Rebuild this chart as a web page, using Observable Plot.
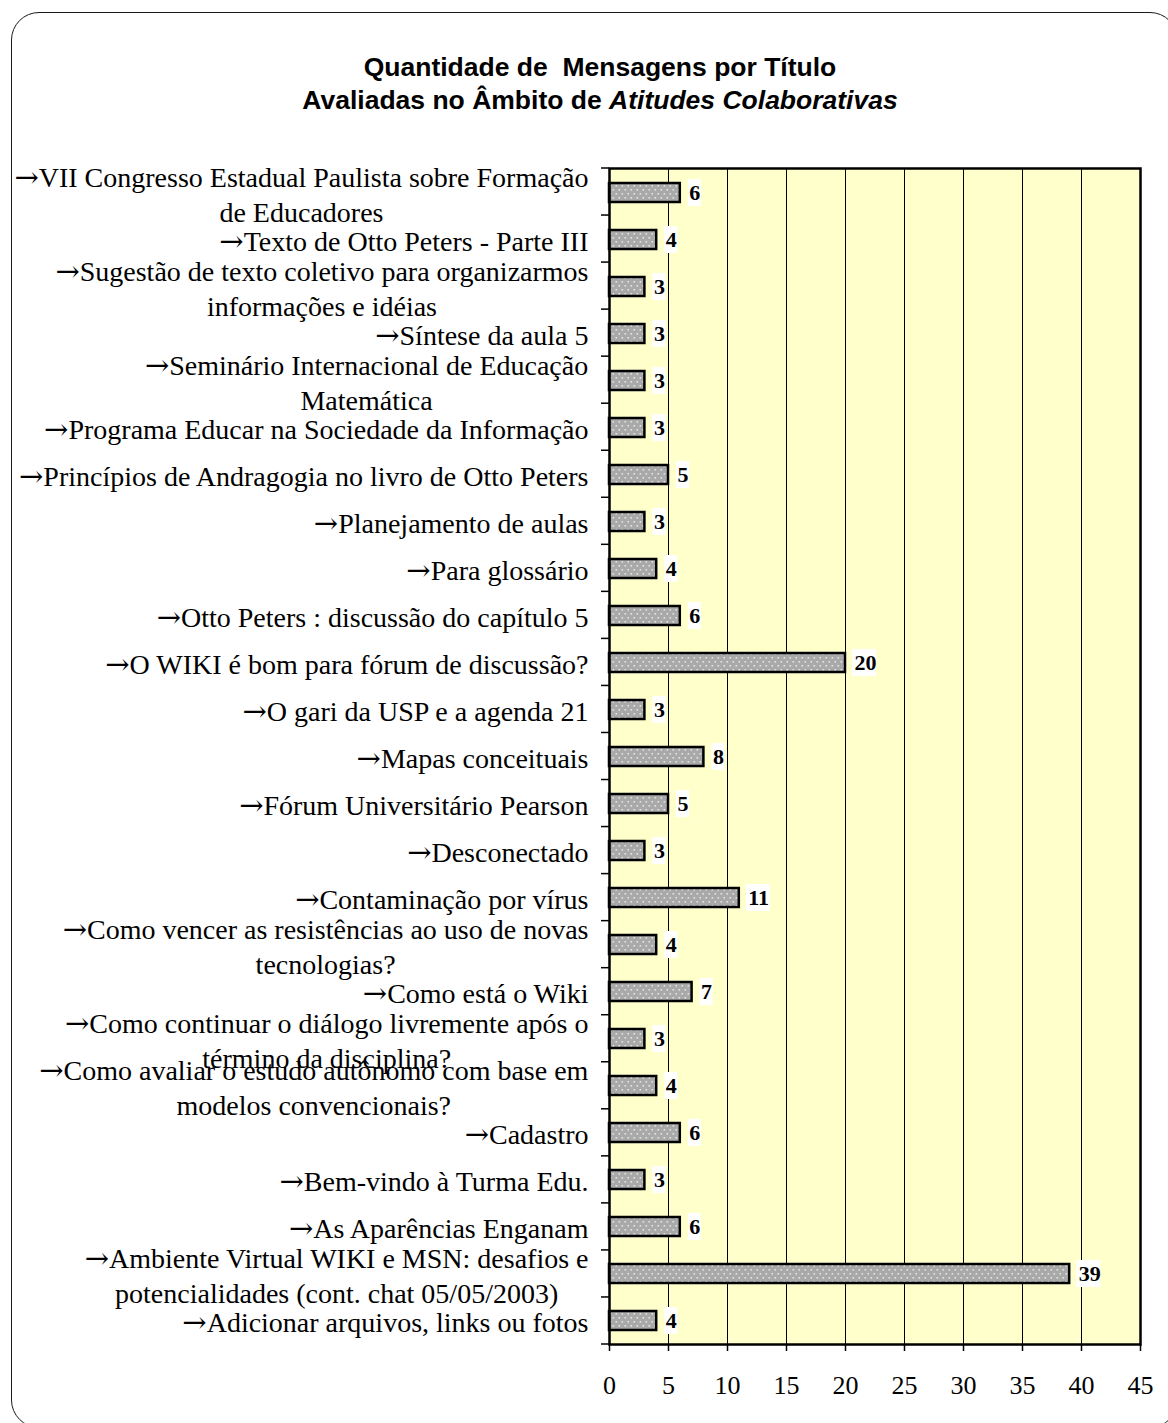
<!DOCTYPE html>
<html lang="pt">
<head>
<meta charset="utf-8">
<script src="https://cdn.jsdelivr.net/npm/d3@7"></script>
<script src="https://cdn.jsdelivr.net/npm/@observablehq/plot@0.6"></script>
<style>
  html, body { margin: 0; padding: 0; background: #fff; }
  #pagina { position: relative; width: 1168px; height: 1423px; overflow: hidden; background: #fff; }
  #moldura { position: absolute; left: 11px; top: 12px; width: 1167px; height: 1416px;
             border: 1.5px solid #1a1a1a; border-radius: 28px; box-sizing: border-box; }
  #titulo { position: absolute; left: 0; top: 51px; width: 1200px; text-align: center;
            font: bold 26.5px "Liberation Sans", Arial, sans-serif; line-height: 33px; color: #000; white-space: pre; }
  #grafico { position: absolute; left: 0; top: 140px; }
</style>
</head>
<body>
<div id="pagina">
  <div id="moldura"></div>
  <div id="titulo">Quantidade de  Mensagens por Título
Avaliadas no Âmbito de <i>Atitudes Colaborativas</i></div>
  <div id="grafico"></div>
</div>
<script>
// Títulos das mensagens, de cima para baixo (quebras de linha como no rótulo)
const titulos = [
  "→VII Congresso Estadual Paulista sobre Formação\nde Educadores",
  "→Texto de Otto Peters - Parte III",
  "→Sugestão de texto coletivo para organizarmos\ninformações e idéias",
  "→Síntese da aula 5",
  "→Seminário Internacional de Educação\nMatemática",
  "→Programa Educar na Sociedade da Informação",
  "→Princípios de Andragogia no livro de Otto Peters",
  "→Planejamento de aulas",
  "→Para glossário",
  "→Otto Peters : discussão do capítulo 5",
  "→O WIKI é bom para fórum de discussão?",
  "→O gari da USP e a agenda 21",
  "→Mapas conceituais",
  "→Fórum Universitário Pearson",
  "→Desconectado",
  "→Contaminação por vírus",
  "→Como vencer as resistências ao uso de novas\ntecnologias?",
  "→Como está o Wiki",
  "→Como continuar o diálogo livremente após o\ntérmino da disciplina?",
  "→Como avaliar o estudo autônomo com base em\nmodelos convencionais?",
  "→Cadastro",
  "→Bem-vindo à Turma Edu.",
  "→As Aparências Enganam",
  "→Ambiente Virtual WIKI e MSN: desafios e\npotencialidades (cont. chat 05/05/2003)",
  "→Adicionar arquivos, links ou fotos"
];

// Quantidade de mensagens por título
const quantidades = [6, 4, 3, 3, 3, 3, 5, 3, 4, 6, 20, 3, 8, 5, 3, 11, 4, 7, 3, 4, 6, 3, 6, 39, 4];

// Marcas do eixo horizontal
const marcasX = [0, 5, 10, 15, 20, 25, 30, 35, 40, 45];

const dados = titulos.map((titulo, i) => ({titulo, valor: quantidades[i]}));

const serif = "'Liberation Serif', 'Times New Roman', serif";

// Padrão pontilhado das barras
function padrao() {
  const ns = "http://www.w3.org/2000/svg";
  const defs = document.createElementNS(ns, "defs");
  defs.innerHTML = `
    <pattern id="pontilhado" patternUnits="userSpaceOnUse" width="6" height="8">
      <rect width="6" height="8" fill="#a9a9a9"></rect>
      <rect x="0.5" y="1" width="1.6" height="1.6" fill="#e4e4e4"></rect>
      <rect x="3.5" y="5" width="1.6" height="1.6" fill="#e4e4e4"></rect>
    </pattern>`;
  return defs;
}

// Pequenos traços do eixo vertical, nos limites de cada categoria
function tracosY(index, scales, values, dims) {
  const n = titulos.length;
  const passo = (dims.height - dims.marginTop - dims.marginBottom) / n;
  const g = d3.create("svg:g").attr("stroke", "black").attr("stroke-width", 1.5);
  for (let i = 0; i <= n; i++) {
    const y = dims.marginTop + i * passo;
    g.append("line")
      .attr("x1", dims.marginLeft - 8).attr("x2", dims.marginLeft)
      .attr("y1", y).attr("y2", y);
  }
  return g.node();
}

const grafico = Plot.plot({
  width: 1168,
  height: 1283,
  marginLeft: 609,
  marginRight: 28,
  marginTop: 28,
  marginBottom: 79,
  style: {fontFamily: serif, fontSize: "28px", color: "black", background: "transparent", overflow: "visible"},
  x: {domain: [0, 45], label: null, axis: null},
  y: {domain: titulos, paddingInner: 0.6, paddingOuter: 0.3, label: null, axis: null},
  marks: [
    padrao,
    Plot.frame({fill: "#FFFFCC", stroke: null}),
    Plot.gridX({ticks: marcasX.slice(1, -1), stroke: "black", strokeOpacity: 1, strokeWidth: 1}),
    Plot.barX(dados, {x: "valor", y: "titulo", fill: "url(#pontilhado)", stroke: "black", strokeWidth: 2.5}),
    // fundo branco atrás dos rótulos de valor
    Plot.barX(dados.filter(d => d.valor < 10), {x1: "valor", x2: "valor", y: "titulo", fill: "white",
      insetLeft: 8, insetRight: -21, insetTop: -4, insetBottom: -4}),
    Plot.barX(dados.filter(d => d.valor >= 10), {x1: "valor", x2: "valor", y: "titulo", fill: "white",
      insetLeft: 7, insetRight: -31, insetTop: -4, insetBottom: -4}),
    Plot.text(dados, {x: "valor", y: "titulo", text: d => String(d.valor), dx: 9, textAnchor: "start",
      fontWeight: "bold", fontSize: 22, fill: "black"}),
    Plot.frame({stroke: "black", strokeWidth: 2.5}),
    Plot.axisX({ticks: marcasX, tickSize: 7, tickPadding: 24, fontSize: 26, strokeWidth: 1.5, label: null}),
    Plot.axisY({tickSize: 0, tickPadding: 21, lineHeight: 1.25, fontSize: 28, label: null, tickFormat: d => d}),
    tracosY
  ]
});

document.getElementById("grafico").appendChild(grafico);

// Seta inicial de cada rótulo numa fonte com seta larga;
// rótulos de duas linhas: linhas centralizadas entre si, bloco alinhado à direita
const ns = "http://www.w3.org/2000/svg";
grafico.querySelectorAll('g[aria-label="y-axis tick label"] text').forEach(t => {
  const linhas = t.querySelectorAll("tspan");
  const primeira = linhas.length ? linhas[0] : t;
  const no = primeira.firstChild;
  if (no && no.nodeType === 3 && no.data.startsWith("→")) {
    no.data = no.data.slice(1);
    const seta = document.createElementNS(ns, "tspan");
    seta.setAttribute("font-family", "'DejaVu Serif'");
    seta.setAttribute("font-size", "29");
    seta.textContent = "→";
    primeira.insertBefore(seta, no);
  }
  if (linhas.length > 1) {
    const w = t.getBBox().width;
    const x0 = +linhas[0].getAttribute("x") || 0;
    t.setAttribute("text-anchor", "middle");
    linhas.forEach(s => s.setAttribute("x", x0 - w / 2));
  }
});
</script>
</body>
</html>
